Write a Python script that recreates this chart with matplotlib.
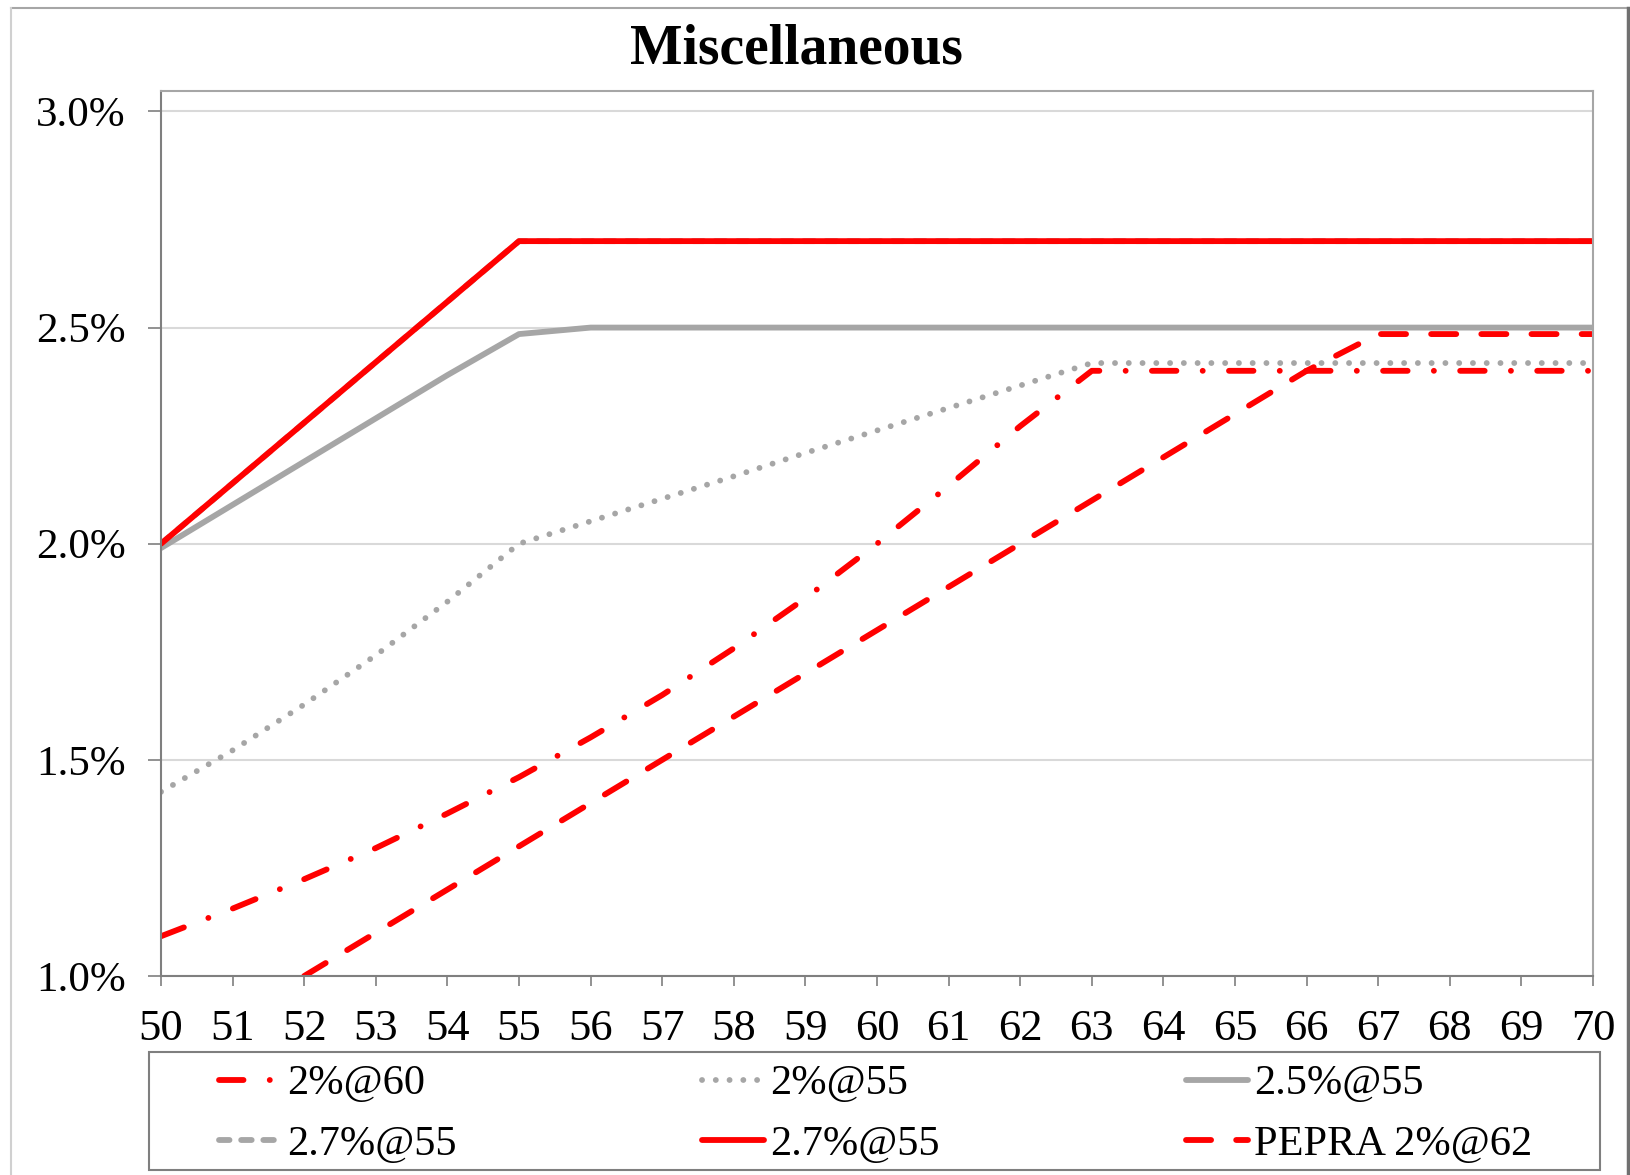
import matplotlib
matplotlib.use("Agg")
import matplotlib.pyplot as plt
from matplotlib.lines import Line2D
from matplotlib.patches import Rectangle
from matplotlib.ticker import FuncFormatter

plt.rcParams['font.family'] = ['Liberation Serif', 'DejaVu Serif']

# benefit factor (%) by retirement age
ages = list(range(50, 71))
f_2at60 = [1.092, 1.156, 1.224, 1.296, 1.376, 1.460, 1.552, 1.650, 1.758, 1.874,
           2.000, 2.134, 2.272, 2.400, 2.400, 2.400, 2.400, 2.400, 2.400, 2.400, 2.400]
f_2at55 = [1.426, 1.522, 1.628, 1.742, 1.866, 2.000, 2.052, 2.104, 2.156, 2.210,
           2.262, 2.314, 2.366, 2.418, 2.418, 2.418, 2.418, 2.418, 2.418, 2.418, 2.418]
f_25at55 = [1.990, 2.090, 2.190, 2.290, 2.390, 2.485, 2.500, 2.500, 2.500, 2.500,
            2.500, 2.500, 2.500, 2.500, 2.500, 2.500, 2.500, 2.500, 2.500, 2.500, 2.500]
f_27at55 = [2.000, 2.140, 2.280, 2.420, 2.560, 2.700, 2.700, 2.700, 2.700, 2.700,
            2.700, 2.700, 2.700, 2.700, 2.700, 2.700, 2.700, 2.700, 2.700, 2.700, 2.700]
pepra_ages = list(range(52, 71))
f_pepra = [1.000, 1.100, 1.200, 1.300, 1.400, 1.500, 1.600, 1.700, 1.800, 1.900,
           2.000, 2.100, 2.200, 2.300, 2.400, 2.485, 2.485, 2.485, 2.485]
y_ticks = [1.0, 1.5, 2.0, 2.5, 3.0]

RED = '#ff0000'
GRAY = '#a6a6a6'
LW = 4.2

W, H = 1631, 1175
fig = plt.figure(figsize=(W / 100, H / 100), dpi=100)
ax = fig.add_axes([161 / W, 1 - 976 / H, (1593 - 161) / W, (976 - 90.7) / H])

l1, = ax.plot(ages, f_2at60, color=RED, lw=LW, ls=(0, (4.2, 4.5, 0.01, 4.5)),
              dash_capstyle='round', label='2%@60')
l2, = ax.plot(ages, f_2at55, color=GRAY, lw=LW, ls=(0, (0.01, 2.35)),
              dash_capstyle='round', label='2%@55')
l3, = ax.plot(ages, f_25at55, color=GRAY, lw=LW, solid_capstyle='round',
              label='2.5%@55')
l4, = ax.plot(ages, f_27at55, color=GRAY, lw=LW, ls=(0, (1.8, 2.0)),
              dash_capstyle='round', label='2.7%@55')
l5, = ax.plot(ages, f_27at55, color=RED, lw=LW, solid_capstyle='round',
              label='2.7%@55')
l6, = ax.plot(pepra_ages, f_pepra, color=RED, lw=LW, ls=(0, (4.3, 4.3)),
              dash_capstyle='round', label='PEPRA 2%@62')

ax.set_xlim(50, 70)
ax.set_ylim(1.0, 3.048)
ax.set_xticks(ages)
ax.set_yticks(y_ticks)
ax.yaxis.set_major_formatter(FuncFormatter(lambda v, p: '%.1f%%' % v))
ax.grid(axis='y', color='#d9d9d9', lw=1.5)
ax.set_axisbelow(True)

for side in ('left', 'bottom'):
    ax.spines[side].set_color('#7f7f7f')
    ax.spines[side].set_linewidth(1.5)
for side in ('top', 'right'):
    ax.spines[side].set_color('#a6a6a6')
    ax.spines[side].set_linewidth(1.5)

ax.tick_params(axis='y', direction='out', length=9.5, width=1.2, color='#7f7f7f',
               labelsize=31, pad=16)
ax.tick_params(axis='x', direction='out', length=7, width=1.2, color='#7f7f7f',
               labelsize=32, pad=17)

fig.text(796 / W, 1 - 50 / H, 'Miscellaneous', ha='center', va='center',
         fontsize=40, fontweight='bold')

# legend below the plot, boxed
handles = [l1, l4, l2, l5, l3, l6]
fig.legend(handles, [h.get_label() for h in handles], ncol=3, loc='center',
           bbox_to_anchor=(875.5 / W, 1 - 1114.5 / H), frameon=False,
           fontsize=30.5, handlelength=1.46, handletextpad=0.15,
           columnspacing=5.8, labelspacing=0.52, borderpad=0)
fig.add_artist(Rectangle((149 / W, 1 - 1170 / H), (1600 - 149) / W, (1170 - 1052) / H,
                         transform=fig.transFigure, fill=False, ec='#7f7f7f', lw=1.5))

# outer frame
fig.add_artist(Line2D([11 / W, 1628 / W], [1 - 8 / H, 1 - 8 / H],
                      transform=fig.transFigure, color='#a6a6a6', lw=1.5))
fig.add_artist(Line2D([11 / W, 11 / W], [0, 1 - 8 / H],
                      transform=fig.transFigure, color='#d0d0d0', lw=1.5))
fig.add_artist(Line2D([1628 / W, 1628 / W], [0, 1 - 8 / H],
                      transform=fig.transFigure, color='#707070', lw=2.5))

fig.savefig('out.png', dpi=100)
